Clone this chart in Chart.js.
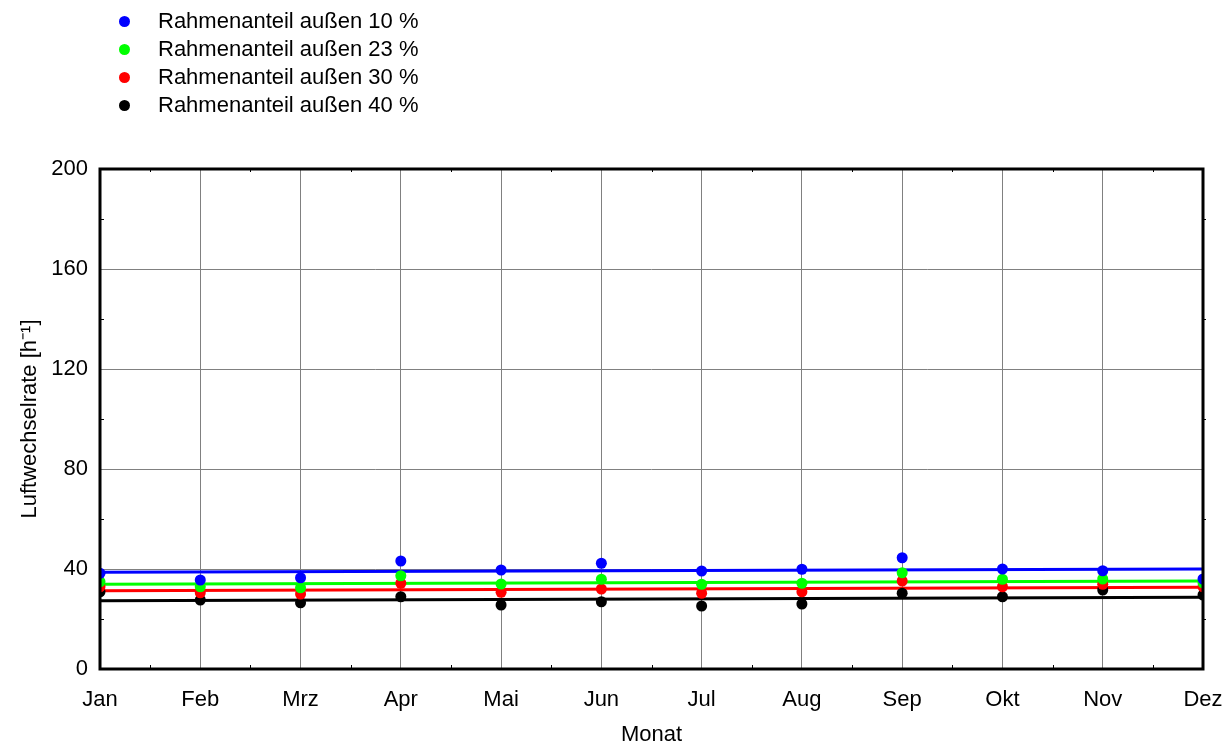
<!DOCTYPE html>
<html>
<head>
<meta charset="utf-8">
<script src="https://cdn.jsdelivr.net/npm/chart.js@4"></script>
<style>
  html, body { margin: 0; padding: 0; background: #fff; }
  #wrap { position: relative; width: 1231px; height: 744px; }
  #legend { position: absolute; left: 119px; top: 7px; font: 22px "Liberation Sans", Arial, sans-serif; color: #000; }
  .row { height: 28px; display: flex; align-items: center; white-space: nowrap; }
  .dot { width: 11px; height: 11px; border-radius: 50%; margin-right: 28px; flex: none; }
</style>
</head>
<body>
<div id="wrap">
  <canvas id="chart" width="1231" height="744"></canvas>
  <div id="legend"></div>
</div>
<script>
const months = ['Jan', 'Feb', 'Mrz', 'Apr', 'Mai', 'Jun', 'Jul', 'Aug', 'Sep', 'Okt', 'Nov', 'Dez'];
const yTicks = [0, 40, 80, 120, 160, 200];

const names = ['Rahmenanteil außen 10 %', 'Rahmenanteil außen 23 %', 'Rahmenanteil außen 30 %', 'Rahmenanteil außen 40 %'];
const colors = ['#0000ff', '#00ff00', '#ff0000', '#000000'];

// measured points per month
const rahmen10 = [38.3, 35.6, 36.5, 43.2, 39.6, 42.3, 39.2, 39.9, 44.5, 40.0, 39.3, 36.0];
const rahmen23 = [34.9, 32.9, 32.5, 37.3, 34.0, 35.9, 33.9, 34.3, 38.5, 35.9, 36.0, 34.5];
const rahmen30 = [32.9, 30.5, 30.0, 34.3, 30.7, 32.0, 30.3, 30.9, 35.2, 32.9, 33.9, 32.9];
const rahmen40 = [30.9, 27.6, 26.5, 28.9, 25.6, 26.9, 25.2, 26.0, 30.3, 28.9, 31.6, 29.6];
const series = [rahmen10, rahmen23, rahmen30, rahmen40];

// trend lines, value at Jan and at Dez
const trendJan = [38.7, 33.9, 31.3, 27.3];
const trendDez = [40.0, 35.2, 32.7, 28.7];

const font = '"Liberation Sans", Arial, sans-serif';

// html legend, like the old generateLegend()
document.getElementById('legend').innerHTML = names.map((n, i) =>
  '<div class="row"><span class="dot" style="background:' + colors[i] + '"></span>' + n + '</div>'
).join('');

const pointSets = names.map((n, i) => ({
  label: n,
  data: series[i],
  showLine: false,
  pointRadius: 5.5,
  pointBorderWidth: 0,
  pointBackgroundColor: colors[i],
  borderColor: colors[i],
  clip: 0
}));

const trendSets = names.map((n, i) => ({
  label: n + ' Trend',
  data: [{x: months[0], y: trendJan[i]}, {x: months[months.length - 1], y: trendDez[i]}],
  borderColor: colors[i],
  borderWidth: 3,
  pointRadius: 0,
  clip: 0
}));

// black frame round the plot plus the small minor ticks
const framePlugin = {
  id: 'frame',
  afterDatasetsDraw(chart) {
    const {ctx, chartArea: a, scales: {x, y}} = chart;
    ctx.save();
    ctx.strokeStyle = '#000';
    ctx.lineWidth = 1;
    ctx.beginPath();
    for (let i = 0; i < yTicks.length - 1; i++) {
      const py = Math.round(y.getPixelForValue((yTicks[i] + yTicks[i + 1]) / 2)) + 0.5;
      ctx.moveTo(a.left, py); ctx.lineTo(a.left + 4, py);
      ctx.moveTo(a.right, py); ctx.lineTo(a.right + 3, py);
    }
    for (let i = 0; i < months.length - 1; i++) {
      const px = Math.round((x.getPixelForValue(i) + x.getPixelForValue(i + 1)) / 2) + 0.5;
      ctx.moveTo(px, a.bottom); ctx.lineTo(px, a.bottom - 4);
      ctx.moveTo(px, a.top); ctx.lineTo(px, a.top + 3);
    }
    ctx.stroke();
    ctx.lineWidth = 3;
    ctx.strokeRect(a.left, a.top, a.right - a.left, a.bottom - a.top);
    ctx.restore();
  }
};

new Chart(document.getElementById('chart'), {
  type: 'line',
  data: {
    labels: months,
    datasets: [...pointSets, ...trendSets]
  },
  options: {
    responsive: false,
    animation: false,
    layout: {padding: {top: 169, right: 28, left: 0, bottom: 0}},
    plugins: {legend: {display: false}, tooltip: {enabled: false}},
    scales: {
      x: {
        type: 'category',
        offset: false,
        grid: {color: '#808080', lineWidth: 1, drawTicks: false},
        border: {display: false},
        ticks: {padding: 18, color: '#000', font: {family: font, size: 22}, maxRotation: 0},
        title: {display: true, text: 'Monat', color: '#000', font: {family: font, size: 22}, padding: {top: 0, bottom: -4}},
        afterFit: s => { s.height = 75; s.paddingLeft = 0; s.paddingRight = 0; }
      },
      y: {
        min: yTicks[0],
        max: yTicks[yTicks.length - 1],
        grid: {color: '#808080', lineWidth: 1, drawTicks: false},
        border: {display: false},
        ticks: {stepSize: 40, padding: 12, color: '#000', font: {family: font, size: 22}},
        title: {display: true, text: 'Luftwechselrate [h⁻¹]', color: '#000', font: {family: font, size: 22}, padding: {top: 17, bottom: 0}},
        afterFit: s => { s.width = 100; s.paddingTop = 0; s.paddingBottom = 0; }
      }
    }
  },
  plugins: [framePlugin]
});
</script>
</body>
</html>
